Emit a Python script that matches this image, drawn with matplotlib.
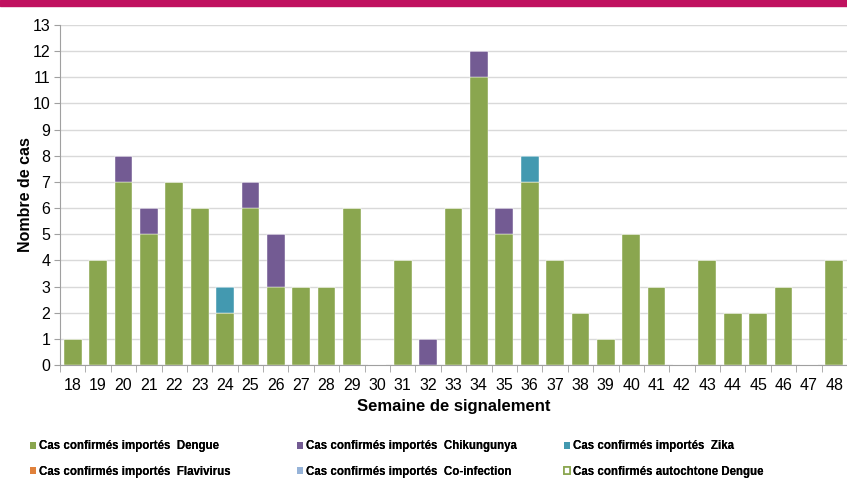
import numpy as np
import matplotlib.pyplot as plt
from matplotlib.patches import Patch

plt.rcParams['font.family'] = ['Liberation Sans', 'DejaVu Sans']

semaines = list(range(18, 49))
dengue = [1, 4, 7, 5, 7, 6, 2, 6, 3, 3, 3, 6, 0, 4, 0, 6, 11, 5, 7, 4, 2, 1, 5, 3, 0, 4, 2, 2, 3, 0, 4]
chik = [0, 0, 1, 1, 0, 0, 0, 1, 2, 0, 0, 0, 0, 0, 1, 0, 1, 1, 0, 0, 0, 0, 0, 0, 0, 0, 0, 0, 0, 0, 0]
zika = [0, 0, 0, 0, 0, 0, 1, 0, 0, 0, 0, 0, 0, 0, 0, 0, 0, 0, 1, 0, 0, 0, 0, 0, 0, 0, 0, 0, 0, 0, 0]
flavi = [0] * 31
coinf = [0] * 31
autoch = [0] * 31

c_dengue = '#8aa64f'
c_chik = '#735b93'
c_zika = '#4399b0'
c_flavi = '#e0813b'
c_coinf = '#96b3d8'

fig = plt.figure(figsize=(8.47, 4.79), dpi=100)
# magenta band at the top
fig.patches.append(plt.Rectangle((0, 0.988), 1, 0.012, transform=fig.transFigure,
                                 color='#c0115f', zorder=0))
ax = fig.add_axes([60 / 847, 1 - 365 / 479, 787 / 847, 340 / 479])

x = np.arange(len(semaines))
w = 0.7
bottom = np.zeros(len(x))
for vals, col in [(dengue, c_dengue), (chik, c_chik), (zika, c_zika), (flavi, c_flavi), (coinf, c_coinf)]:
    vals = np.array(vals)
    ax.bar(x, vals, w, bottom=bottom, color=col, edgecolor='white', linewidth=0.3, zorder=3)
    bottom += vals

ax.set_xlim(-0.5, len(x) - 0.5)
ax.set_ylim(0, 13)
ax.set_yticks(range(0, 14))
ax.set_xticks(x)
ax.set_xticklabels([str(s) for s in semaines])
ax.set_xticks(np.arange(-0.5, len(x), 1), minor=True)
ax.tick_params(axis='x', which='major', length=0, labelsize=11.5, pad=9)
ax.tick_params(axis='x', which='minor', length=5, color='#a0a0a0')
ax.tick_params(axis='y', length=4, color='#a0a0a0', labelsize=11.5, pad=3)
ax.grid(axis='y', color='#d9d9d9', linewidth=1, zorder=0)
for s in ['top', 'right']:
    ax.spines[s].set_visible(False)
ax.spines['left'].set_color('#a0a0a0')
ax.spines['bottom'].set_color('#a0a0a0')

ax.set_ylabel('Nombre de cas', fontsize=11.5, fontweight='bold', labelpad=0)
ax.set_xlabel('Semaine de signalement', fontsize=12, fontweight='bold', labelpad=5)

# legend, one column at a time so that each column starts where it should
colonnes = [
    (33, [Patch(facecolor=c_dengue, label='Cas confirmés importés  Dengue'),
          Patch(facecolor=c_flavi, label='Cas confirmés importés  Flavivirus')]),
    (300, [Patch(facecolor=c_chik, label='Cas confirmés importés  Chikungunya'),
           Patch(facecolor=c_coinf, label='Cas confirmés importés  Co-infection')]),
    (567, [Patch(facecolor=c_zika, label='Cas confirmés importés  Zika'),
           Patch(facecolor='white', edgecolor=c_dengue, linewidth=1.2,
                 label='Cas confirmés autochtone Dengue')]),
]
for x0, hs in colonnes:
    leg = fig.legend(handles=hs, loc='center left',
                     bbox_to_anchor=((x0 - 3) / 847, 1 - 459 / 479),
                     frameon=False, prop={'size': 8.3, 'weight': 'bold'},
                     handlelength=0.55, handleheight=0.55, handletextpad=0.2,
                     labelspacing=1.15, borderpad=0, borderaxespad=0)
    fig.add_artist(leg)

fig.savefig('out.png', dpi=100)
